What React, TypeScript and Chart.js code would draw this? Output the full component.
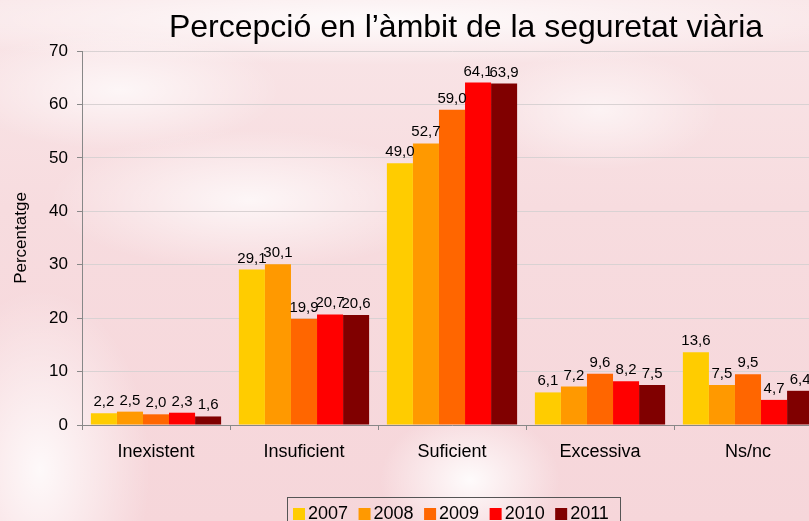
import React, { useEffect, useRef } from 'react';
import { Chart, registerables } from 'chart.js';

Chart.register(...registerables);

const categories = ['Inexistent', 'Insuficient', 'Suficient', 'Excessiva', 'Ns/nc'];
const years = ['2007', '2008', '2009', '2010', '2011'];
const v2007 = [2.2, 29.1, 49.0, 6.1, 13.6];
const v2008 = [2.5, 30.1, 52.7, 7.2, 7.5];
const v2009 = [2.0, 19.9, 59.0, 9.6, 9.5];
const v2010 = [2.3, 20.7, 64.1, 8.2, 4.7];
const v2011 = [1.6, 20.6, 63.9, 7.5, 6.4];
const seriesValues = [v2007, v2008, v2009, v2010, v2011];
const colors = ['#FFCC00', '#FF9900', '#FF6600', '#FF0000', '#800000'];
const yMin = 0;
const yMax = 70;
const yStep = 10;
const titleText = 'Percepció en l\u2019àmbit de la seguretat viària';
const yTitle = 'Percentatge';

const FONT = '"Liberation Sans", Arial, sans-serif';

const fmt = (v: number) => v.toFixed(1).replace('.', ',');

const decorPlugin = {
  id: 'decor',
  afterDraw(chart: any) {
    const ctx = chart.ctx;
    ctx.save();
    // title
    ctx.fillStyle = '#000';
    ctx.font = `32px ${FONT}`;
    ctx.textAlign = 'center';
    ctx.textBaseline = 'alphabetic';
    ctx.fillText(titleText, 466, 37);

    // data labels
    ctx.font = `15px ${FONT}`;
    chart.data.datasets.forEach((ds: any, di: number) => {
      const meta = chart.getDatasetMeta(di);
      meta.data.forEach((bar: any, i: number) => {
        ctx.fillText(fmt(ds.data[i]), bar.x, bar.y - 7);
      });
    });

    // legend
    ctx.font = `18px ${FONT}`;
    ctx.textAlign = 'left';
    let x = 293;
    const positions: number[] = [];
    years.forEach((y) => {
      positions.push(x);
      const w = ctx.measureText(y).width;
      x += 12 + 3 + w + 10.5;
    });
    ctx.strokeStyle = '#555';
    ctx.lineWidth = 1;
    ctx.strokeRect(287.5, 497.5, 333, 40);
    years.forEach((y, i) => {
      const px = positions[i];
      ctx.fillStyle = colors[i];
      ctx.fillRect(px, 508, 12, 12);
      ctx.fillStyle = '#000';
      ctx.fillText(y, px + 15, 519);
    });
    ctx.restore();
  },
};

export default function App() {
  const ref = useRef<HTMLCanvasElement>(null);
  useEffect(() => {
    if (!ref.current) return;
    const chart = new Chart(ref.current, {
      type: 'bar',
      data: {
        labels: categories,
        datasets: years.map((y, i) => ({
          label: y,
          data: seriesValues[i],
          backgroundColor: colors[i],
          borderWidth: 0,
          categoryPercentage: 0.88,
          barPercentage: 1,
        })),
      },
      options: {
        responsive: false,
        animation: false,
        events: [],
        layout: { padding: { left: 0, top: 51, right: 18, bottom: 0 } },
        plugins: {
          legend: { display: false },
          title: { display: false },
          tooltip: { enabled: false },
        },
        scales: {
          x: {
            offset: true,
            grid: {
              display: true,
              drawOnChartArea: false,
              drawTicks: true,
              tickLength: 5,
              tickColor: '#888',
              offset: true,
            },
            border: { color: '#888', width: 1 },
            ticks: { color: '#000', font: { family: FONT, size: 18 }, padding: 11, maxRotation: 0 },
            afterFit(scale: any) {
              scale.height = 115;
            },
          },
          y: {
            min: yMin,
            max: yMax,
            ticks: { stepSize: yStep, color: '#000', font: { family: FONT, size: 17 }, padding: 9 },
            grid: { color: '#d9d2d3', tickLength: 5, tickColor: '#888' },
            border: { color: '#888', width: 1 },
            title: {
              display: true,
              text: yTitle,
              color: '#000',
              font: { family: FONT, size: 17 },
              padding: { top: 11, bottom: 0 },
            },
            afterFit(scale: any) {
              scale.width = 82;
            },
          },
        },
      },
      plugins: [decorPlugin],
    });
    return () => chart.destroy();
  }, []);

  return (
    <div
      style={{
        position: 'absolute',
        left: 0,
        top: 0,
        width: 809,
        height: 521,
        overflow: 'hidden',
        background:
          'radial-gradient(ellipse 90px 70px at 470px 480px, rgba(255,255,255,0.9), rgba(255,255,255,0)),' +
          'radial-gradient(ellipse 110px 180px at 40px 470px, rgba(255,255,255,0.85), rgba(255,255,255,0)),' +
          'radial-gradient(ellipse 200px 70px at 250px 200px, rgba(255,255,255,0.75), rgba(255,255,255,0)),' +
          'radial-gradient(ellipse 160px 60px at 120px 90px, rgba(255,255,255,0.7), rgba(255,255,255,0)),' +
          'radial-gradient(ellipse 520px 45px at 380px 20px, rgba(255,255,255,0.85), rgba(255,255,255,0)),' +
          'radial-gradient(ellipse 120px 60px at 600px 110px, rgba(255,255,255,0.6), rgba(255,255,255,0)),' +
          'linear-gradient(to bottom, #f9e6e8 0%, #f7dcdf 40%, #f6d6da 100%)',
      }}
    >
      <canvas ref={ref} width={840} height={540} style={{ display: 'block' }} />
    </div>
  );
}
